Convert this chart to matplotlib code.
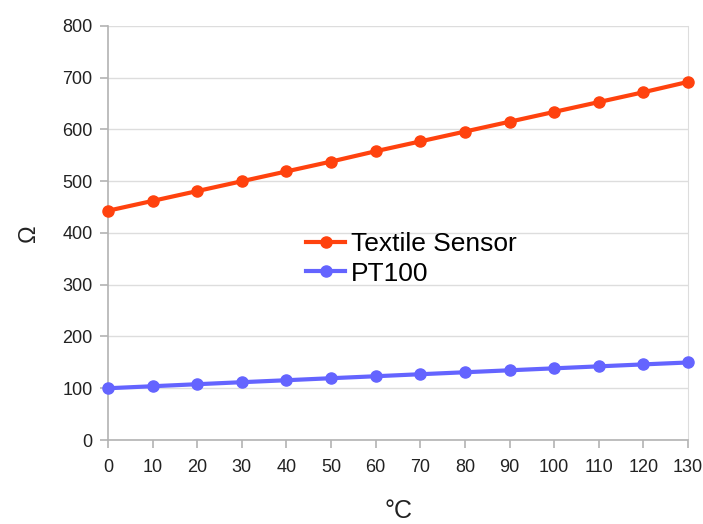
import matplotlib
matplotlib.use('Agg')
import matplotlib.pyplot as plt

plt.rcParams['font.family'] = ['Liberation Sans', 'DejaVu Sans']

# ── Data ──────────────────────────────────────────────────────────────────────
temps   = [0, 10, 20, 30, 40, 50, 60, 70, 80, 90, 100, 110, 120, 130]
textile = [443, 462, 481, 500, 519, 538, 558, 577, 596, 615, 634, 653, 672, 692]
pt100   = [100, 103.9, 107.8, 111.7, 115.5, 119.4, 123.2, 127.1, 130.9,
           134.7, 138.5, 142.3, 146.1, 149.8]
y_ticks = [0, 100, 200, 300, 400, 500, 600, 700, 800]

# ── Plot ──────────────────────────────────────────────────────────────────────
fig = plt.figure(figsize=(7.03, 5.24), dpi=100)
ax = fig.add_axes([0.1536, 0.1603, 0.8251, 0.7901])

ax.plot(temps, textile, '-o', color='#ff420e', lw=3, markersize=8,
        label='Textile Sensor', clip_on=False, zorder=3)
ax.plot(temps, pt100, '-o', color='#6464ff', lw=3, markersize=8,
        label='PT100', clip_on=False, zorder=3)

ax.set_xlim(0, 130)
ax.set_ylim(0, 800)
ax.set_xticks(temps)
ax.set_yticks(y_ticks)
ax.tick_params(labelsize=13, colors='#b3b3b3', labelcolor='#222222',
               length=6, width=1.2)
ax.tick_params(axis='x', pad=8)
ax.tick_params(axis='y', pad=5)
ax.grid(True, axis='y', color='#dddddd', lw=1)
ax.set_axisbelow(True)

ax.spines['top'].set_visible(False)
ax.spines['right'].set_color('#dddddd')
for side in ['left', 'bottom']:
    ax.spines[side].set_color('#b3b3b3')
    ax.spines[side].set_linewidth(1.2)

ax.set_xlabel('°C', fontsize=18, labelpad=16, color='#222222')
ax.set_ylabel('Ω', fontsize=17, labelpad=16, color='#222222')

ax.legend(loc='upper left', bbox_to_anchor=(0.324, 0.527), frameon=False,
          fontsize=19, handlelength=1.45, handletextpad=0.25, labelspacing=0.2,
          borderaxespad=0)

fig.savefig('out.png', dpi=100)
